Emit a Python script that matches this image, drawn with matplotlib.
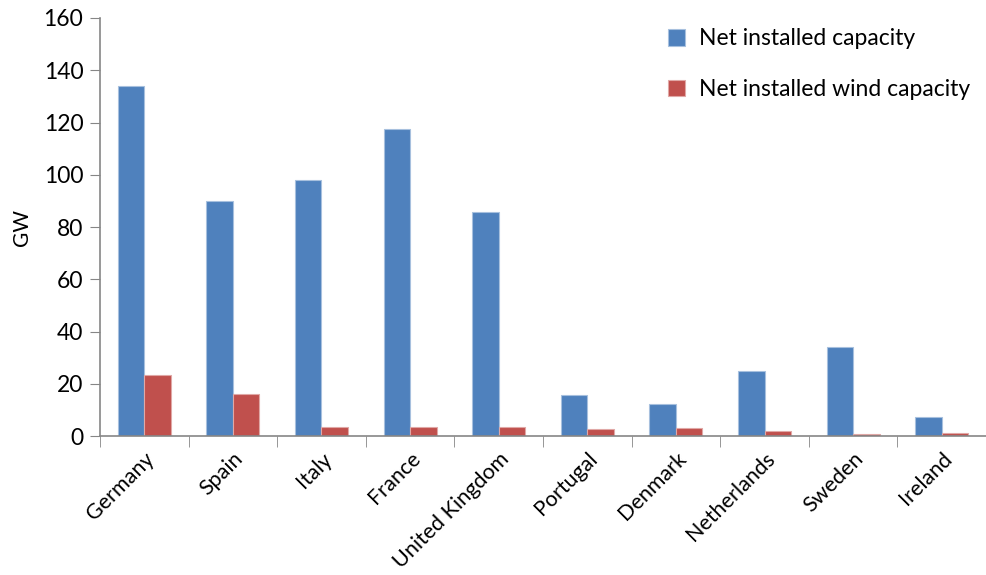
import matplotlib.pyplot as plt
import numpy as np
from matplotlib.ticker import FixedLocator

plt.rcParams['font.family'] = ['Lato', 'DejaVu Sans']

countries = ['Germany', 'Spain', 'Italy', 'France', 'United Kingdom',
             'Portugal', 'Denmark', 'Netherlands', 'Sweden', 'Ireland']
net_capacity = [134, 90.1, 98, 117.7, 85.7, 15.6, 12.4, 24.8, 34.1, 7.4]
wind_capacity = [23.5, 16.2, 3.3, 3.3, 3.3, 2.6, 3.0, 1.9, 0.6, 1.0]

blue = '#4F81BD'
red = '#C0504D'
axis_col = '#868686'

fig = plt.figure(figsize=(9.87, 5.75), dpi=100)
ax = fig.add_axes([0.1013, 0.2417, 0.8977, 0.727])

x = np.arange(len(countries))
w = 0.3
ax.bar(x - w / 2, net_capacity, w, color=blue, edgecolor='#A7C0DE', linewidth=0.8,
       label='Net installed capacity')
ax.bar(x + w / 2, wind_capacity, w, color=red, edgecolor='#E0A8A6', linewidth=0.8,
       label='Net installed wind capacity')

ax.set_xlim(-0.5, len(countries) - 0.5)
ax.set_ylim(0, 160)
ax.set_yticks(range(0, 161, 20))
ax.tick_params(axis='y', labelsize=16.5, length=7, color=axis_col, pad=5)

ax.set_xticks(x)
ax.set_xticklabels(countries, rotation=45, ha='right', rotation_mode='anchor', fontsize=15.5)
ax.tick_params(axis='x', which='major', length=0, pad=9)
ax.xaxis.set_minor_locator(FixedLocator(np.arange(-0.5, len(countries), 1)))
ax.tick_params(axis='x', which='minor', length=8, color=axis_col)

for s in ['top', 'right']:
    ax.spines[s].set_visible(False)
for s in ['left', 'bottom']:
    ax.spines[s].set_color(axis_col)
    ax.spines[s].set_linewidth(1.2)

ax.set_ylabel('GW', fontsize=15, labelpad=8)

ax.legend(loc='upper right', bbox_to_anchor=(1.005, 1.025), frameon=False, fontsize=16.5,
          handlelength=0.75, handleheight=0.75, handletextpad=0.6, labelspacing=1.3)

fig.savefig('out.png', dpi=100)
